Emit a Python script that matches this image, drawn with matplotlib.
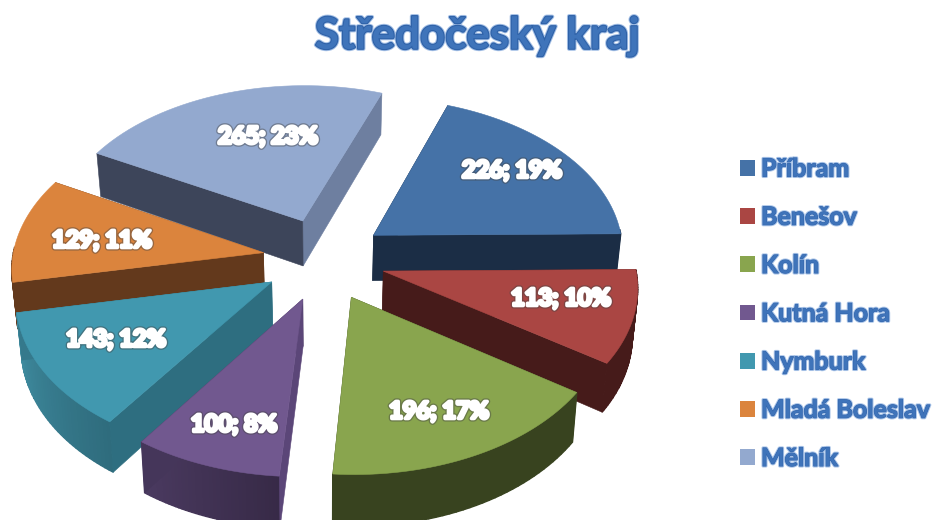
import numpy as np
import matplotlib
matplotlib.use("Agg")
import matplotlib.pyplot as plt
import matplotlib.patheffects as pe
from matplotlib.colors import to_rgb
from matplotlib.patches import Patch

plt.rcParams['font.family'] = ['Lato', 'DejaVu Sans']

TITLE = "Středočeský kraj"
districts = ["Příbram", "Benešov", "Kolín", "Kutná Hora", "Nymburk", "Mladá Boleslav", "Mělník"]
counts = [226, 113, 196, 100, 143, 129, 265]
percents = [19, 10, 17, 8, 12, 11, 23]

top_colors = ["#4572a7", "#aa4643", "#89a54e", "#71588f", "#4198af", "#db843d", "#93a9cf"]
# rim shade at the start and at the end of each slice's arc
rim_start = ["#1b2d45", "#461b1a", "#38431f", "#372a47", "#2f6c7d", "#63391c", "#3d455a"]
rim_end = ["#1b2d45", "#461b1a", "#38431f", "#4a3a60", "#3f8ca0", "#63391c", "#3d455a"]
start_cut_colors = ["#1b2d45", "#461b1a", "#38431f", "#5b4678", "#2e6e80", "#63391c", "#3d455a"]
end_cut_colors = ["#1b2d45", "#461b1a", "#38431f", "#45365a", "#35798c", "#63391c", "#6e7fa0"]

# pixel layout of the picture
CX, CY = 324, 259
RX, RY = 251, 154
PERSP = 0.09
EXPLODE_X, EXPLODE_Y = 0.245, 0.27
DEPTH = 46
TAPER = 0.017
START = 70
LABEL_XY = [(512, 170), (561, 298), (439, 411), (234, 424), (116, 339), (102, 240), (268, 136)]
DRAW_ORDER = [6, 0, 5, 1, 4, 3, 2]


def project(u, v, drop=0):
    s = 1 / (1 + PERSP * v)
    return CX + RX * u * s * (1 - TAPER * drop / DEPTH), CY - RY * v * s + drop * s


def wedge_points(a0, a1, ox, oy, n=40):
    ang = np.radians(np.linspace(a0, a1, n))
    return ox + np.cos(ang), oy + np.sin(ang), ang


def quad(ax, p, q, color, z, lw=0.4):
    x0, y0 = project(*p)
    x1, y1 = project(*q)
    x2, y2 = project(*q, DEPTH)
    x3, y3 = project(*p, DEPTH)
    ax.fill([x0, x1, x2, x3], [y0, y1, y2, y3], color=color, lw=lw, zorder=z)


fig = plt.figure(figsize=(9.33, 5.2), dpi=100)
ax = fig.add_axes([0, 0, 1, 1])
ax.set_xlim(0, 933)
ax.set_ylim(520, 0)
ax.axis('off')

vals = np.array(counts, dtype=float)
sweeps = vals / vals.sum() * 360
edges = START - np.concatenate([[0], np.cumsum(sweeps)])

for z, i in enumerate(DRAW_ORDER):
    a0, a1 = edges[i], edges[i + 1]
    mid = np.radians((a0 + a1) / 2)
    ox, oy = EXPLODE_X * np.cos(mid), EXPLODE_Y * np.sin(mid)
    us, vs, ang = wedge_points(a0, a1, ox, oy)
    # rim, shaded along the arc, back part is hidden anyway
    c0, c1 = np.array(to_rgb(rim_start[i])), np.array(to_rgb(rim_end[i]))
    for j in range(len(us) - 1):
        if np.sin(ang[j]) > 0.03 and np.sin(ang[j + 1]) > 0.03:
            continue
        t = j / (len(us) - 2)
        quad(ax, (us[j], vs[j]), (us[j + 1], vs[j + 1]), tuple(c0 + (c1 - c0) * t), z + 1, lw=1.0)
    # cut faces, the one further back first
    cuts = [(vs[0], us[0], start_cut_colors[i]), (vs[-1], us[-1], end_cut_colors[i])]
    for v_end, u_end, col in sorted(cuts, key=lambda c: -c[0]):
        quad(ax, (ox, oy), (u_end, v_end), col, z + 1.2)
    # top
    px, py = project(np.r_[ox, us], np.r_[oy, vs])
    ax.fill(px, py, color=top_colors[i], lw=0.4, zorder=z + 1.5)
    ax.text(*LABEL_XY[i], f"{counts[i]}; {percents[i]}%", color="white", fontsize=17,
            fontweight='bold', ha='center', va='center', zorder=20,
            path_effects=[pe.withStroke(linewidth=4.5, foreground="#44444470"),
                          pe.withStroke(linewidth=2.6, foreground="white")])

ax.text(477, 36, TITLE, color="#3f74ba", fontsize=31.6, fontweight='bold', ha='center', va='center',
        path_effects=[pe.withStroke(linewidth=3, foreground="#a6c1e6"),
                      pe.withStroke(linewidth=1.6, foreground="#2f62a8")])

handles = [Patch(facecolor=c, edgecolor='none', label=d) for c, d in zip(top_colors, districts)]
leg = ax.legend(handles=handles, loc='upper left', bbox_to_anchor=(732.5 / 933, 1 - 150 / 520),
                frameon=False, fontsize=18, labelspacing=1.01, handlelength=0.6,
                handleheight=0.6, handletextpad=0.24, borderpad=0.3, borderaxespad=0)
for t in leg.get_texts():
    t.set_color("#3f74ba")
    t.set_fontweight('bold')
    t.set_path_effects([pe.withStroke(linewidth=2.2, foreground="#a9c4e8"),
                        pe.withStroke(linewidth=0.8, foreground="#3567ad")])

fig.savefig("out.png", dpi=100)
